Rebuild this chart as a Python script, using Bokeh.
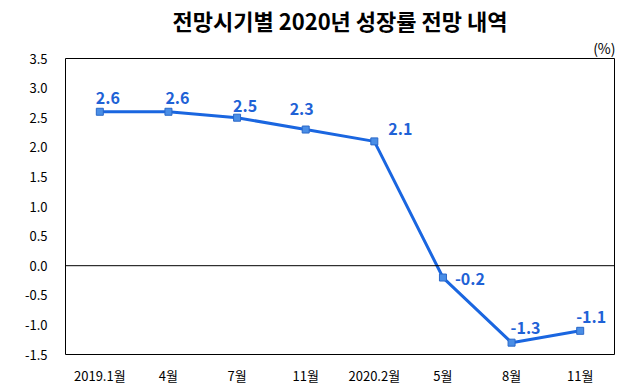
from bokeh.plotting import figure
from bokeh.models import ColumnDataSource, FixedTicker, Span, Title
from bokeh.embed import file_html
from bokeh.resources import INLINE
from bokeh.core.properties import value

categories = ["2019.1월", "4월", "7월", "11월", "2020.2월", "5월", "8월", "11월 "]
growth = [2.6, 2.6, 2.5, 2.3, 2.1, -0.2, -1.3, -1.1]
y_ticks = [-1.5, -1.0, -0.5, 0.0, 0.5, 1.0, 1.5, 2.0, 2.5, 3.0, 3.5]

# label placement (style only, screen pixels)
lab_dx = [8, 9, 8, -4, 26, 27, 14, 11]
lab_dy = [-14, -14, -12, -21, -12, 1, -15, -14]

FONT = "Noto Sans CJK KR"
BLUE = "#1a66e0"

xs = list(range(len(categories)))
src = ColumnDataSource(dict(x=xs, y=growth, lab=[f"{v:.1f}" for v in growth],
                            dx=lab_dx, dy=lab_dy))

p = figure(width=639, height=390, output_backend="svg", toolbar_location=None,
           x_range=(-0.5, len(categories) - 0.5), y_range=(-1.5, 3.5),
           min_border_left=65, min_border_right=25, min_border_top=58, min_border_bottom=36)

p.add_layout(Title(text="(%)", align="right", offset=-1,
                   text_font=FONT, text_font_size="14px", text_font_style="normal",
                   text_color="black", standoff=1, text_line_height=0.9), "above")
p.add_layout(Title(text="전망시기별 2020년 성장률 전망 내역", align="center",
                   text_font=FONT, text_font_size="22px", text_font_style="bold",
                   text_color="black", standoff=0, text_line_height=0.7), "above")

p.outline_line_color = "black"
p.outline_line_width = 1
p.xgrid.visible = False
p.ygrid.visible = False
p.background_fill_color = "white"
p.border_fill_color = "white"

p.yaxis.ticker = FixedTicker(ticks=y_ticks)
p.yaxis.major_label_overrides = {t: f"{t:.1f}" for t in y_ticks}
p.xaxis.ticker = FixedTicker(ticks=xs)
p.xaxis.major_label_overrides = {i: c.strip() for i, c in enumerate(categories)}
for ax in (p.xaxis, p.yaxis):
    ax.axis_line_color = None
    ax.major_tick_line_color = None
    ax.minor_tick_line_color = None
    ax.major_label_text_font = FONT
    ax.major_label_text_font_size = "13px"
    ax.major_label_text_color = "black"
p.yaxis.major_label_standoff = 12
p.xaxis.major_label_standoff = 5

p.add_layout(Span(location=0, dimension="width", line_color="black", line_width=1))

p.line("x", "y", source=src, line_color=BLUE, line_width=3)
p.scatter("x", "y", source=src, marker="square", size=7,
          fill_color="#4a8ee6", line_color="#2a68c8", line_width=1)
p.text("x", "y", text="lab", source=src, x_offset="dx", y_offset="dy",
       text_font=value(FONT), text_font_size="16px", text_font_style="bold",
       text_color="#1f62d6", text_align="center", text_baseline="middle")

open("out.html", "w").write(file_html(p, INLINE))
